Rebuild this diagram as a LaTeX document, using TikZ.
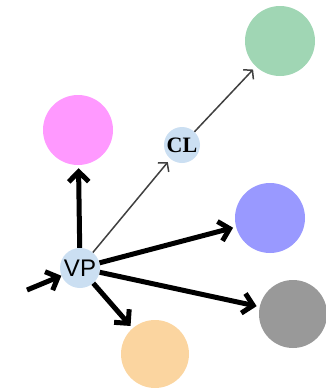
\documentclass[tikz,border=0pt]{standalone}
\usepackage{fontspec}
\setsansfont{Liberation Sans}
\setmainfont{Liberation Serif}
\usetikzlibrary{arrows.meta}
\definecolor{Hub}{HTML}{CBDFF2}
\definecolor{Pink}{HTML}{FF99FF}
\definecolor{Mint}{HTML}{A0D6B4}
\definecolor{Lilac}{HTML}{9999FF}
\definecolor{Stone}{HTML}{999999}
\definecolor{Peach}{HTML}{FBD5A0}
\tikzset{
  hub/.style={circle,fill=Hub,inner sep=0pt,minimum size=40pt},
  blob/.style={circle,fill=#1,inner sep=0pt,minimum size=70pt},
  heavy/.style={line width=5pt,shorten >=3pt,-{Straight Barb[length=10pt,width=20pt,line width=5pt]}},
  light/.style={line width=1.5pt,draw=black!75,shorten >=4pt,-{Straight Barb[length=6pt,width=14pt,line width=1.5pt]}}
}

\begin{document}
\begin{tikzpicture}[x=1pt,y=-1pt]
    \useasboundingbox (0,0) rectangle (326,389);
    \node[hub] (vp) at (80,268) {\sffamily\fontsize{24}{26}\selectfont VP};
    \node[hub,minimum size=36pt] (cl) at (182,145) {\bfseries\fontsize{22}{24}\selectfont CL};
    \node[blob=Pink] (pink) at (78,130) {};
    \node[blob=Mint] (mint) at (280,41) {};
    \node[blob=Lilac] (lilac) at (270,218) {};
    \node[blob=Stone,minimum size=68pt] (stone) at (293,314) {};
    \node[blob=Peach,minimum size=68pt] (peach) at (155,354) {};
    \coordinate (in) at (27,290);
    % edges
    \draw[heavy,shorten >=0pt] (in) -- (vp);
    \draw[heavy] (vp) -- (pink);
    \draw[heavy] (vp) -- (lilac);
    \draw[heavy] (vp) -- (stone);
    \draw[heavy] (vp) -- (peach);
    \draw[light] (vp) -- (cl);
    \draw[light] (cl) -- (mint);
  \end{tikzpicture}
\end{document}
